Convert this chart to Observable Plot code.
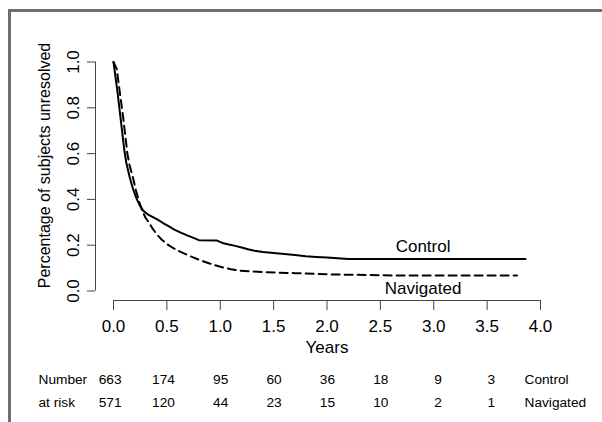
<!DOCTYPE html>
<html>
<head>
<meta charset="utf-8">
<script src="https://cdn.jsdelivr.net/npm/d3@7"></script>
<script src="https://cdn.jsdelivr.net/npm/@observablehq/plot@0.6"></script>
<style>
  html, body { margin: 0; padding: 0; background: #fff; overflow: hidden; }
  #wrap { position: relative; width: 602px; height: 422px; overflow: hidden; background: #fff; }
  #border { position: absolute; left: 8px; top: 9px; width: 700px; height: 600px; border: 3px solid #6e6e6e; box-sizing: border-box; z-index: 2; pointer-events: none; background: transparent; }
  #chart { position: absolute; left: 0; top: 0; z-index: 1; }
</style>
</head>
<body>
<div id="wrap"><div id="chart"></div><div id="border"></div></div>
<script>
// Kaplan-Meier estimates
const controlTime = [0, 0.02, 0.04, 0.06, 0.08, 0.10, 0.12, 0.15, 0.18, 0.21, 0.25, 0.28, 0.32, 0.36, 0.41, 0.46, 0.52, 0.57, 0.63, 0.69, 0.75, 0.80, 0.97, 1.02, 1.08, 1.14, 1.20, 1.26, 1.32, 1.40, 1.50, 1.60, 1.70, 1.80, 1.90, 2.00, 2.10, 2.20, 3.86];
const controlSurv = [1.0, 0.93, 0.86, 0.78, 0.70, 0.62, 0.56, 0.50, 0.45, 0.41, 0.37, 0.35, 0.335, 0.325, 0.313, 0.298, 0.282, 0.268, 0.255, 0.243, 0.232, 0.222, 0.22, 0.21, 0.203, 0.197, 0.19, 0.182, 0.176, 0.17, 0.166, 0.162, 0.157, 0.152, 0.149, 0.146, 0.143, 0.14, 0.14];
const navTime = [0, 0.03, 0.05, 0.07, 0.09, 0.11, 0.13, 0.15, 0.18, 0.21, 0.24, 0.27, 0.30, 0.33, 0.37, 0.41, 0.45, 0.50, 0.55, 0.60, 0.67, 0.74, 0.82, 0.90, 0.97, 1.03, 1.10, 1.16, 1.30, 1.44, 1.70, 2.06, 2.40, 2.62, 3.78];
const navSurv = [1.0, 0.97, 0.90, 0.83, 0.76, 0.68, 0.60, 0.55, 0.50, 0.44, 0.39, 0.35, 0.32, 0.30, 0.27, 0.245, 0.225, 0.205, 0.19, 0.177, 0.162, 0.148, 0.133, 0.12, 0.11, 0.102, 0.095, 0.09, 0.085, 0.082, 0.078, 0.072, 0.07, 0.068, 0.068];

const groups = ["Control", "Navigated"];
const xTicks = [0, 0.5, 1, 1.5, 2, 2.5, 3, 3.5, 4];
const yTicks = [0, 0.2, 0.4, 0.6, 0.8, 1.0];
const riskTimes = [0, 0.5, 1, 1.5, 2, 2.5, 3, 3.5];
const riskControl = [663, 174, 95, 60, 36, 18, 9, 3];
const riskNavigated = [571, 120, 44, 23, 15, 10, 2, 1];
const riskRowLabels = ["Number", "at risk"];
const curveLabelTime = 2.9;

const control = controlTime.map((t, i) => ({t, s: controlSurv[i]}));
const navigated = navTime.map((t, i) => ({t, s: navSurv[i]}));
const riskRows = [riskControl, riskNavigated];

const font = "'Liberation Sans', Arial, sans-serif";
const ink = "#000";
const axisInk = "#444";
const rowDy = [88.5, 111.5];
const tableSize = 13.7;

const riskMarks = riskRows.flatMap((row, r) => [
  Plot.text(row, {x: (d, i) => riskTimes[i], frameAnchor: "bottom", lineAnchor: "middle", dy: rowDy[r], text: d => String(d), textAnchor: "end", dx: 8, fontSize: tableSize, fill: ink}),
  Plot.text([riskRowLabels[r]], {frameAnchor: "bottom-left", lineAnchor: "middle", textAnchor: "start", dx: -75, dy: rowDy[r], fontSize: tableSize, fill: ink}),
  Plot.text([groups[r]], {frameAnchor: "bottom-right", lineAnchor: "middle", textAnchor: "start", dx: -16, dy: rowDy[r], fontSize: tableSize, fill: ink})
]);

const chart = Plot.plot({
  width: 602,
  height: 422,
  marginLeft: 113,
  marginRight: 62,
  marginTop: 61.5,
  marginBottom: 131.5,
  x: {domain: [xTicks[0], xTicks[xTicks.length - 1]], axis: null},
  y: {domain: [yTicks[0], yTicks[yTicks.length - 1]], axis: null},
  style: {fontFamily: font, background: "transparent", overflow: "visible", color: ink},
  marks: [
    // y axis (offset to the left, R style)
    Plot.axisY({ticks: yTicks, tickSize: 8, dx: -18, tickFormat: () => "", label: null, stroke: axisInk}),
    Plot.ruleX([xTicks[0]], {y1: yTicks[0], y2: yTicks[yTicks.length - 1], dx: -18, stroke: axisInk}),
    Plot.text(yTicks, {y: d => d, frameAnchor: "left", textAnchor: "middle", lineAnchor: "middle", dx: -40, rotate: -90, text: d => d.toFixed(1), fontSize: 17, fill: ink}),
    Plot.text(["Percentage of subjects unresolved"], {frameAnchor: "left", textAnchor: "middle", lineAnchor: "middle", dx: -69, dy: -11, rotate: -90, fontSize: 16, fill: ink}),
    // x axis (offset below)
    Plot.axisX({ticks: xTicks, tickSize: 10, dy: 9.5, tickFormat: () => "", label: null, stroke: axisInk}),
    Plot.ruleY([yTicks[0]], {x1: xTicks[0], x2: xTicks[xTicks.length - 1], dy: 9.5, stroke: axisInk}),
    Plot.text(xTicks, {x: d => d, frameAnchor: "bottom", lineAnchor: "middle", dy: 35.5, text: d => d.toFixed(1), fontSize: 17, fill: ink}),
    Plot.text(["Years"], {frameAnchor: "bottom", lineAnchor: "middle", dy: 56.5, fontSize: 17, fill: ink}),
    // survival curves
    Plot.line(control, {x: "t", y: "s", curve: "linear", stroke: "#000", strokeWidth: 2}),
    Plot.line(navigated, {x: "t", y: "s", curve: "linear", stroke: "#000", strokeWidth: 2, strokeDasharray: "8,5"}),
    Plot.text([groups[0]], {x: () => curveLabelTime, y: () => controlSurv[controlSurv.length - 1], dy: -12, fontSize: 17, fill: ink}),
    Plot.text([groups[1]], {x: () => curveLabelTime, y: () => navSurv[navSurv.length - 1], dy: 13, fontSize: 17, fill: ink}),
    // number at risk table
    ...riskMarks
  ]
});
document.getElementById("chart").appendChild(chart);
</script>
</body>
</html>
